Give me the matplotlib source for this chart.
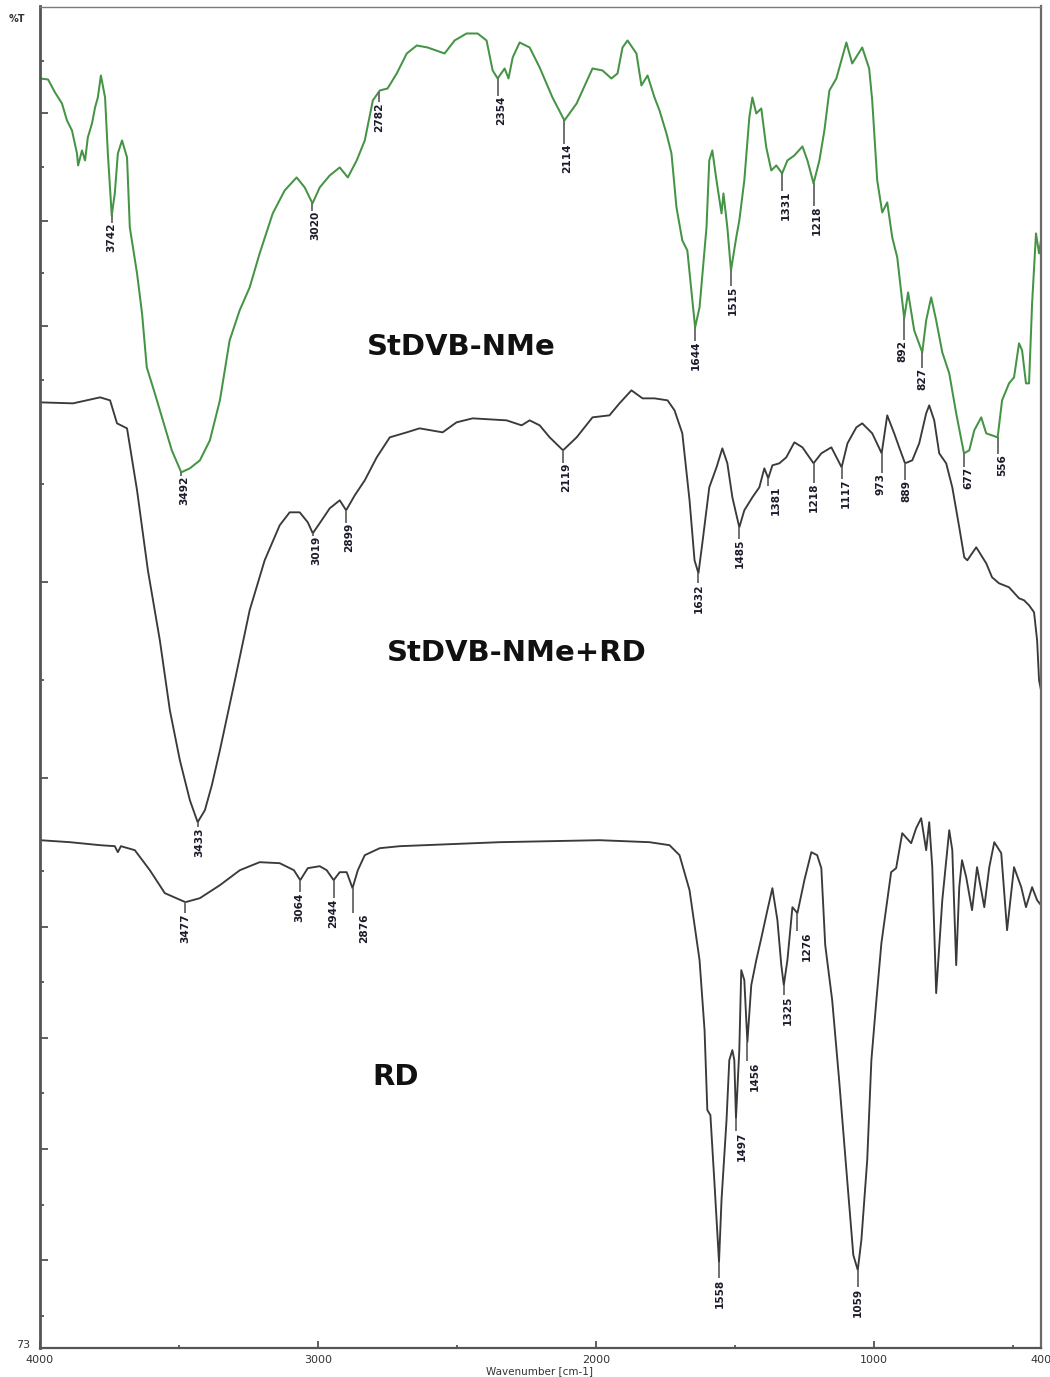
import numpy as np
import matplotlib
matplotlib.use("Agg")
import matplotlib.pyplot as plt
from matplotlib import font_manager

# ---------------- spectra (wavenumber in cm-1, transmittance in offset %T units) ----------------
nme_wn = [4000, 3971, 3946, 3921, 3903, 3885, 3867, 3863, 3849, 3838, 3828, 3813, 3802, 3792,
          3781, 3766, 3756, 3742, 3731, 3720, 3705, 3687, 3677, 3651, 3633, 3616, 3587, 3558,
          3526, 3492, 3461, 3425, 3389, 3353, 3318, 3282, 3246, 3210, 3163, 3120, 3077, 3048,
          3020, 2994, 2958, 2922, 2893, 2861, 2832, 2803, 2778, 2750, 2717, 2681, 2645, 2606,
          2545, 2509, 2466, 2426, 2394, 2372, 2354, 2329, 2315, 2300, 2275, 2239, 2203, 2157,
          2114, 2070, 2013, 1977, 1945, 1923, 1905, 1887, 1855, 1837, 1815, 1790, 1772, 1747,
          1729, 1711, 1690, 1672, 1644, 1628, 1603, 1593, 1582, 1567, 1549, 1542, 1528, 1515,
          1496, 1485, 1467, 1449, 1438, 1424, 1406, 1388, 1370, 1352, 1331, 1312, 1287, 1258,
          1240, 1218, 1197, 1179, 1161, 1136, 1118, 1100, 1079, 1043, 1018, 1007, 989, 971,
          953, 935, 917, 892, 878, 856, 827, 813, 795, 777, 755, 730, 705, 677,
          658, 640, 615, 597, 556, 540, 515, 497, 479, 468, 454, 443, 432, 418,
          407, 400]
nme_t = [127.0, 126.9, 125.6, 124.5, 122.8, 121.8, 119.5, 118.3, 119.8, 118.8, 121.1, 122.5, 124.1, 125.1,
         127.3, 125.1, 119.5, 113.3, 115.5, 119.5, 120.8, 119.1, 112.1, 107.5, 103.5, 98.1, 95.5, 92.8,
         89.8, 87.6, 88.0, 88.8, 90.8, 94.8, 100.8, 103.8, 106.1, 109.5, 113.5, 115.8, 117.1, 116.1,
         114.5, 116.1, 117.3, 118.1, 117.1, 118.8, 120.8, 124.8, 125.8, 126.0, 127.5, 129.5, 130.3, 130.1,
         129.5, 130.8, 131.5, 131.5, 130.8, 127.8, 127.0, 128.0, 127.0, 129.1, 130.6, 130.1, 128.1, 125.1,
         122.8, 124.5, 128.0, 127.8, 127.0, 127.5, 130.1, 130.8, 129.5, 126.3, 127.3, 125.1, 123.8, 121.5,
         119.5, 114.1, 110.8, 109.8, 102.1, 104.1, 112.1, 118.8, 119.8, 116.8, 113.5, 115.5, 112.1, 107.8,
         111.1, 112.8, 116.8, 123.1, 125.1, 123.5, 124.0, 120.1, 117.8, 118.3, 117.5, 118.8, 119.3, 120.2,
         118.8, 116.5, 118.8, 121.8, 125.8, 127.0, 128.8, 130.6, 128.5, 130.1, 128.0, 124.8, 116.8, 113.6,
         114.6, 111.1, 109.1, 103.0, 105.6, 101.8, 99.6, 102.8, 105.1, 102.8, 99.6, 97.5, 93.5, 89.5,
         89.8, 91.8, 93.1, 91.5, 91.1, 94.8, 96.5, 97.1, 100.5, 99.8, 96.5, 96.5, 104.5, 111.5,
         109.5, 110.8]

rd_mix_wn = [4000, 3881, 3784, 3748, 3723, 3687, 3651, 3612, 3569, 3533, 3497, 3461, 3433, 3407,
             3382, 3353, 3299, 3246, 3192, 3138, 3102, 3066, 3037, 3019, 2987, 2958, 2922, 2899,
             2868, 2832, 2789, 2742, 2681, 2635, 2552, 2502, 2444, 2322, 2268, 2239, 2203, 2167,
             2119, 2070, 2013, 1952, 1916, 1873, 1833, 1790, 1743, 1718, 1690, 1664, 1646, 1632,
             1618, 1593, 1567, 1546, 1528, 1510, 1485, 1467, 1438, 1413, 1395, 1381, 1366, 1341,
             1316, 1287, 1258, 1218, 1190, 1154, 1117, 1096, 1064, 1043, 1007, 973, 953, 928,
             910, 889, 863, 838, 813, 802, 784, 766, 741, 719, 694, 676, 665, 633,
             597, 576, 551, 515, 479, 461, 443, 425, 414, 407, 400]
rd_mix_t = [94.6, 94.5, 95.1, 94.8, 92.5, 92.0, 85.8, 77.8, 70.8, 63.8, 58.8, 54.8, 52.6, 53.8,
            56.3, 59.8, 66.8, 73.8, 78.8, 82.3, 83.6, 83.6, 82.6, 81.5, 82.8, 84.0, 84.8, 83.8,
            85.3, 86.8, 89.1, 91.1, 91.6, 92.0, 91.6, 92.6, 93.0, 92.8, 92.3, 92.8, 92.3, 91.1,
            89.8, 91.1, 93.1, 93.3, 94.5, 95.8, 95.0, 95.0, 94.8, 93.8, 91.5, 84.8, 78.8, 77.5,
            80.5, 86.1, 88.1, 90.0, 88.5, 85.1, 82.1, 83.8, 85.1, 86.1, 88.0, 87.0, 88.3, 88.5,
            89.1, 90.6, 90.1, 88.5, 89.5, 90.1, 88.1, 90.5, 92.1, 92.5, 91.5, 89.5, 93.3, 91.5,
            90.1, 88.5, 88.8, 90.5, 93.5, 94.3, 92.8, 89.5, 88.5, 86.1, 82.1, 79.1, 78.8, 80.1,
            78.5, 77.1, 76.5, 76.1, 75.0, 74.8, 74.3, 73.6, 70.8, 66.8, 65.8]

rd_wn = [4000, 3892, 3784, 3731, 3720, 3709, 3659, 3605, 3551, 3477, 3425, 3353, 3281, 3210,
         3138, 3087, 3064, 3037, 2994, 2969, 2944, 2922, 2897, 2876, 2857, 2832, 2778, 2706,
         2527, 2347, 2167, 1988, 1808, 1736, 1700, 1664, 1628, 1610, 1600, 1589, 1575, 1558,
         1549, 1531, 1521, 1510, 1503, 1497, 1485, 1478, 1467, 1456, 1442, 1424, 1406, 1384,
         1366, 1348, 1334, 1325, 1312, 1294, 1276, 1251, 1226, 1205, 1190, 1176, 1151, 1126,
         1097, 1075, 1059, 1046, 1025, 1010, 992, 974, 939, 921, 899, 867, 849, 831,
         813, 802, 791, 777, 755, 730, 719, 705, 694, 684, 669, 648, 630, 604,
         586, 568, 543, 522, 497, 471, 454, 432, 414, 400]
rd_t = [50.8, 50.6, 50.3, 50.2, 49.6, 50.2, 49.8, 47.8, 45.5, 44.6, 45.0, 46.3, 47.8, 48.6,
        48.5, 47.8, 46.8, 48.0, 48.2, 47.8, 46.8, 47.6, 47.6, 46.0, 47.8, 49.3, 50.0, 50.2,
        50.4, 50.6, 50.7, 50.8, 50.6, 50.3, 49.3, 45.8, 38.8, 31.8, 23.8, 23.3, 16.8, 8.6,
        14.8, 22.8, 28.8, 29.8, 28.8, 23.0, 29.8, 37.8, 36.8, 30.6, 36.3, 38.8, 41.0, 43.8,
        46.0, 42.8, 38.3, 36.3, 38.8, 44.1, 43.5, 46.8, 49.6, 49.3, 48.0, 40.3, 34.8, 26.8,
        16.8, 9.3, 7.8, 10.8, 18.8, 28.8, 34.8, 40.5, 47.6, 48.0, 51.5, 50.5, 52.0, 53.0,
        49.8, 52.6, 48.1, 35.5, 44.8, 51.8, 49.8, 38.3, 46.1, 48.8, 47.1, 43.8, 48.1, 44.1,
        48.1, 50.6, 49.5, 41.8, 48.1, 46.1, 44.1, 46.1, 44.8, 44.3]

# ---------------- peak annotations ----------------
nme_peaks = ["3742", "3492", "3020", "2782", "2354", "2114", "1644", "1515", "1331", "1218",
             "892", "827", "677", "556"]
rd_mix_peaks = ["3433", "3019", "2899", "2119", "1632", "1485", "1381", "1218", "1117", "973", "889"]
rd_peaks = ["3477", "3064", "2944", "2876", "1558", "1497", "1456", "1325", "1276", "1059"]

sample_names = ["StDVB-NMe", "StDVB-NMe+RD", "RD"]

# label layout: (drop below curve in px, horizontal nudge in px)
nme_layout = [(22, 0), (18, 3), (22, 3), (25, 0), (32, 3), (38, 3), (28, 1), (30, 2), (32, 4),
              (37, 3), (33, -2), (27, 0), (25, 4), (28, 5)]
rd_mix_layout = [(20, 2), (17, 3), (27, 3), (27, 3), (25, 0), (26, 1), (22, 8), (34, 0), (26, 4),
                 (31, -1), (28, 1)]
rd_layout = [(26, 0), (27, -1), (33, -1), (40, 12), (31, 1), (28, 6), (34, 7), (25, 4), (33, 9),
             (32, 0)]

# ---------------- figure ----------------
W, H, DPI = 1050, 1377, 100
fig = plt.figure(figsize=(W / DPI, H / DPI), dpi=DPI)
fig.patch.set_facecolor("white")
ax = fig.add_axes([40 / W, 1 - 1348 / H, 1001 / W, (1348 - 6.5) / H])

GREEN = "#459445"
DARK = "#3a3a3a"
ax.plot(nme_wn, nme_t, color=GREEN, lw=1.45, solid_joinstyle="round")
ax.plot(rd_mix_wn, rd_mix_t, color=DARK, lw=1.35, solid_joinstyle="round")
ax.plot(rd_wn, rd_t, color=DARK, lw=1.35, solid_joinstyle="round")

ax.set_xlim(4000, 400)
ax.set_ylim(0, 134.2)

names = {f.name for f in font_manager.fontManager.ttflist}
if "Liberation Sans Narrow" in names:
    peak_font, peak_size = "Liberation Sans Narrow", 10
else:
    peak_font, peak_size = "DejaVu Sans", 7.6

PX = 72 / DPI  # pixels -> points
UNIT_PER_PX = 0.1  # transmittance units per pixel on this axis


def label_peaks(wn, t, peaks, layout):
    xs = np.asarray(wn, dtype=float)[::-1]
    ys = np.asarray(t, dtype=float)[::-1]
    for text, (drop, dx) in zip(peaks, layout):
        pos = float(text)
        yv = np.interp(pos, xs, ys)
        half = 6.4 * len(text) / 2
        tick_end = yv - (drop - half - 2) * UNIT_PER_PX
        ax.plot([pos, pos], [yv, tick_end], color="#666666", lw=1.3, solid_capstyle="butt")
        ax.annotate(text, xy=(pos, yv), xytext=(dx * PX, -drop * PX),
                    textcoords="offset points", rotation=90, ha="center", va="center",
                    fontsize=peak_size, family=peak_font, fontweight="bold", color="#1a1a2a")


label_peaks(nme_wn, nme_t, nme_peaks, nme_layout)
label_peaks(rd_mix_wn, rd_mix_t, rd_mix_peaks, rd_mix_layout)
label_peaks(rd_wn, rd_t, rd_peaks, rd_layout)

# sample names
name_pos = [(2484, 100.1), (2286, 69.5), (2721, 27.1)]
for name, (x, y) in zip(sample_names, name_pos):
    ax.text(x, y, name, ha="center", va="center", fontsize=21, fontweight="bold",
            family="DejaVu Sans", color="#111111")

# axes frame
for side, lw, col in [("left", 2.0, "#555555"), ("bottom", 1.6, "#555555"),
                      ("top", 1.0, "#7a7a7a"), ("right", 1.6, "#6a6a6a")]:
    ax.spines[side].set_linewidth(lw)
    ax.spines[side].set_color(col)

ax.set_xticks([4000, 3000, 2000, 1000, 400])
ax.set_xticklabels(["4000", "3000", "2000", "1000", "400"])
ax.set_xticks([3500, 2500, 1500, 500], minor=True)
ax.tick_params(axis="x", which="major", direction="in", length=5, width=1.2, color="#444444",
               labelsize=8, labelcolor="#333333", pad=5)
ax.tick_params(axis="x", which="minor", direction="in", length=2, width=1.2, color="#444444")

y_major = [123.5, 112.7, 102.2, 76.6, 57.0, 42.1, 31.0, 19.9, 8.8]
y_minor = [128.7, 118.1, 107.5, 96.8, 86.4, 66.8, 47.7, 36.6, 25.5, 14.3, 3.2]
ax.set_yticks(y_major)
ax.set_yticklabels([])
ax.set_yticks(y_minor, minor=True)
ax.tick_params(axis="y", which="major", direction="in", length=6, width=1.2, color="#444444")
ax.tick_params(axis="y", which="minor", direction="in", length=3, width=1.2, color="#444444")

fig.text(17 / W, 1 - 19 / H, "%T", ha="center", va="center", fontsize=7, fontweight="bold",
         color="#333333")
fig.text(30 / W, 1 - 1345 / H, "73", ha="right", va="center", fontsize=8, color="#333333")
fig.text(540 / W, 1 - 1371 / H, "Wavenumber [cm-1]", ha="center", va="center", fontsize=7.5,
         color="#333333")

fig.savefig("out.png", dpi=DPI, facecolor="white")
